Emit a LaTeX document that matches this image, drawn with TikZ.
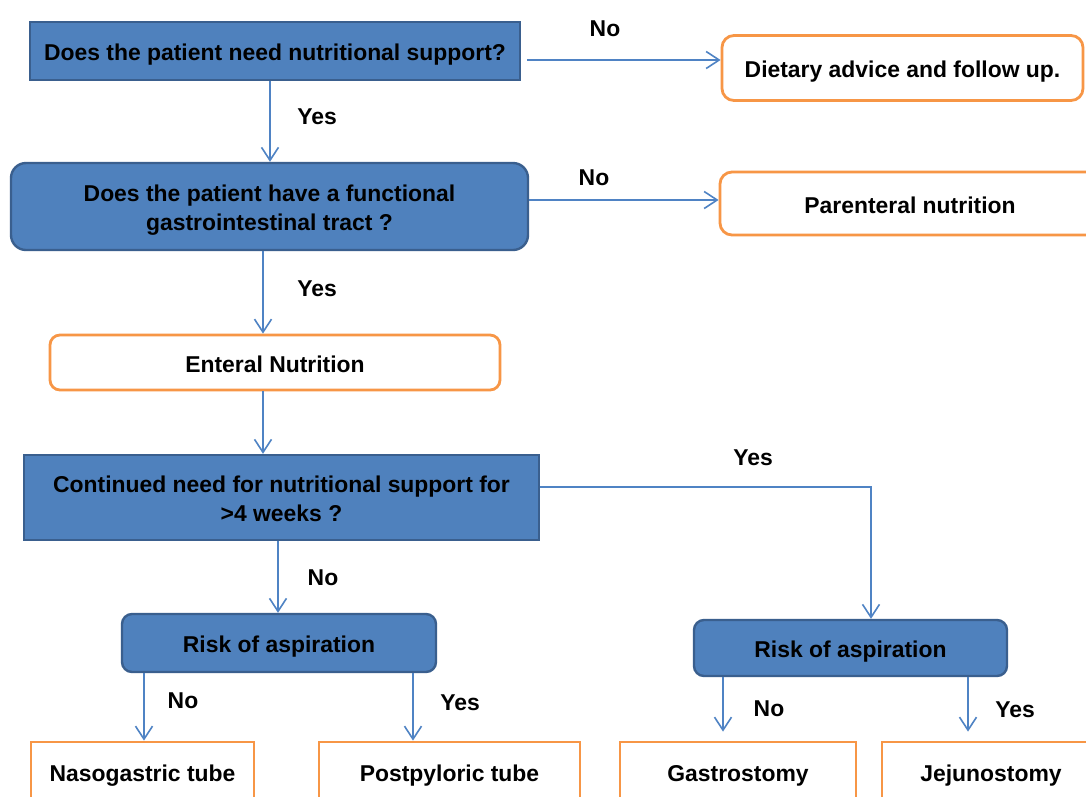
\documentclass[tikz,border=0pt]{standalone}
\usepackage{fontspec}
\setmainfont{Liberation Sans}
\usetikzlibrary{arrows.meta}
\definecolor{qfill}{HTML}{4F81BD}
\definecolor{qline}{HTML}{3A5F8E}
\definecolor{oline}{HTML}{F79646}
\definecolor{aline}{HTML}{4F83C4}
\newcommand{\dfont}{\fontsize{22.9}{29.5}\selectfont\bfseries}
\begin{document}
\begin{tikzpicture}[x=1pt,y=-1pt,
  qbox/.style={draw=qline, fill=qfill, line width=2.4pt, align=center, inner sep=0pt, font=\dfont, text height=19pt, text depth=0pt},
  obox/.style={draw=oline, fill=white, line width=2.8pt, align=center, inner sep=0pt, font=\dfont, text height=19pt, text depth=0pt},
  twolines/.style={text height=48.5pt},
  arr/.style={draw=aline, line width=1.6pt, -{Straight Barb[length=13pt,width=17pt,line width=1.6pt]}},
  lab/.style={font=\dfont, inner sep=0pt, text height=16.4pt, text depth=0pt}]
\useasboundingbox (0,0) rectangle (1086,796);
\fill[white] (0,0) rectangle (1086,796);

% nodes
\node[qbox, minimum width=490pt, minimum height=58pt] (q1) at (275,51) {Does the patient need nutritional support?};
\node[obox, rounded corners=12pt, minimum width=361pt, minimum height=65pt] (diet) at (902.5,68) {Dietary advice and follow up.};
\node[qbox, twolines, rounded corners=15pt, minimum width=517pt, minimum height=87pt] (q2) at (269.5,206.5) {Does the patient have a functional\\gastrointestinal tract ?};
\node[obox, rounded corners=12pt, minimum width=380pt, minimum height=63pt] (par) at (910,203.5) {Parenteral nutrition};
\node[obox, rounded corners=10pt, minimum width=450pt, minimum height=55pt] (ent) at (275,362.5) {Enteral Nutrition};
\node[qbox, twolines, minimum width=515pt, minimum height=85pt] (q3) at (281.5,497.5) {Continued need for nutritional support for\\>4 weeks ?};
\node[qbox, rounded corners=10pt, minimum width=314pt, minimum height=58pt] (r1) at (279,643) {Risk of aspiration};
\node[qbox, rounded corners=10pt, minimum width=313pt, minimum height=56pt] (r2) at (850.5,648) {Risk of aspiration};
\node[obox, minimum width=223pt, minimum height=60pt] (ng) at (142.5,772) {Nasogastric tube};
\node[obox, minimum width=261pt, minimum height=60pt] (pp) at (449.5,772) {Postpyloric tube};
\node[obox, minimum width=236pt, minimum height=60pt] (ga) at (738,772) {Gastrostomy};
\node[obox, minimum width=218pt, minimum height=60pt] (je) at (991,772) {Jejunostomy};

% helper coordinates
\coordinate (y60) at (0,60);
\coordinate (y200) at (0,200);
\coordinate (y487) at (0,487);
\coordinate (x270) at (270,0);
\coordinate (x263) at (263,0);
\coordinate (x278) at (278,0);
\coordinate (x144) at (144,0);
\coordinate (x413) at (413,0);
\coordinate (x723) at (723,0);
\coordinate (x968) at (968,0);
\coordinate (x871) at (871,0);

% connectors
\draw[arr, shorten <=6pt] (q1.east |- y60) -- (diet.west |- y60);
\draw[arr] (q2.east |- y200) -- (par.west |- y200);
\draw[arr] (q1.south -| x270) -- (q2.north -| x270);
\draw[arr] (q2.south -| x263) -- (ent.north -| x263);
\draw[arr] (ent.south -| x263) -- (q3.north -| x263);
\draw[arr] (q3.east |- y487) -| (r2.north -| x871);
\draw[arr] (q3.south -| x278) -- (r1.north -| x278);
\draw[arr] (r1.south -| x144) -- (ng.north -| x144);
\draw[arr] (r1.south -| x413) -- (pp.north -| x413);
\draw[arr, shorten >=9pt] (r2.south -| x723) -- (ga.north -| x723);
\draw[arr, shorten >=9pt] (r2.south -| x968) -- (je.north -| x968);

% labels
\node[lab] (l1) at (605,28) {No};
\node[lab] (l2) at (317,116) {Yes};
\node[lab] (l3) at (594,177) {No};
\node[lab] (l4) at (317,288) {Yes};
\node[lab] (l5) at (753,457) {Yes};
\node[lab] (l6) at (323,577) {No};
\node[lab] (l7) at (183,700) {No};
\node[lab] (l8) at (460,702) {Yes};
\node[lab] (l9) at (769,708) {No};
\node[lab] (l10) at (1015,709) {Yes};
\end{tikzpicture}
\end{document}
